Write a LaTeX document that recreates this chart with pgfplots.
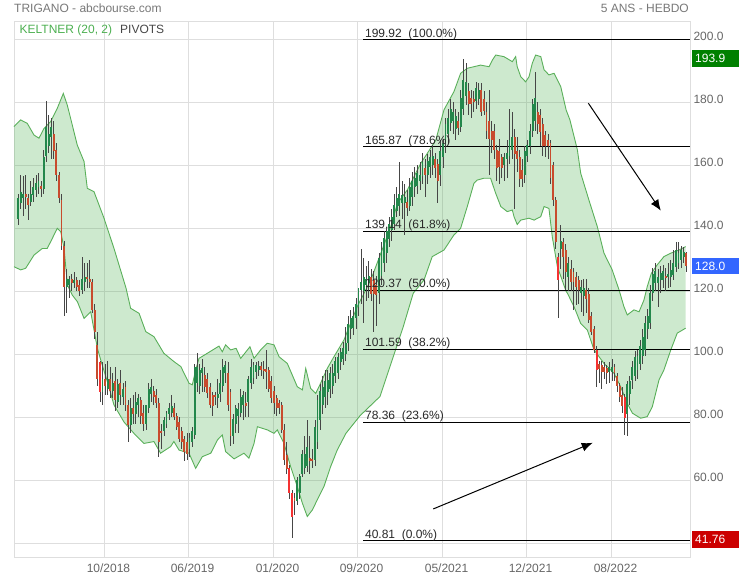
\documentclass[border=0pt]{standalone}
\usepackage{fontspec}
\setmainfont{Liberation Sans}
\usepackage{pgfplots}
\pgfplotsset{compat=1.18}
\usepackage{pgfplotstable}
\usetikzlibrary{arrows.meta}

\definecolor{upc}{RGB}{35,135,75}
\definecolor{downc}{RGB}{200,75,45}
\definecolor{brightc}{RGB}{245,50,50}
\definecolor{wickc}{RGB}{70,70,70}
\definecolor{bandline}{RGB}{90,175,90}
\definecolor{bandfill}{RGB}{76,175,80}
\definecolor{gridc}{RGB}{222,222,222}
\definecolor{labelgray}{RGB}{102,102,102}
\definecolor{titlegray}{RGB}{120,120,120}
\definecolor{keltgreen}{RGB}{76,175,80}
\definecolor{pivgray}{RGB}{70,70,70}
\definecolor{fibtext}{RGB}{40,40,40}
\definecolor{boxgreen}{RGB}{0,128,0}
\definecolor{boxblue}{RGB}{51,102,255}
\definecolor{boxred}{RGB}{204,0,0}

% weekly candles: index, high, low (wicks)
\pgfplotstableread{
i h l
0 151 141
1 157 146
2 156.5 144
3 157 146
4 151 142.5
5 155 147
6 156 148.5
7 157 150
8 157.5 151
9 155 150
10 165 151
11 180.5 161
12 176 164
13 175 162
14 174 162
15 167 155
16 158 148
17 151 133
18 136 112
19 127 113
20 125 118
21 125.5 120
22 126 121
23 124.5 120
24 123.5 118.5
25 131 119
26 129 120
27 129 121
28 130 121
29 124 113
30 116 105
31 107 90
32 98 85
33 97.5 84
34 97 87
35 98 87
36 96 86
37 94 86
38 96 82
39 92 83
40 95 84
41 91 84
42 91.5 82
43 85.5 72
44 86 75
45 87 78
46 88 78
47 87.5 80
48 86.5 78
49 84 75.5
50 84 76
51 91 81.5
52 92 85
53 90 84
54 89 83
55 86 67.5
56 78 70
57 80 74
58 82 76.5
59 84.5 79
60 87 80
61 84.5 79
62 81.5 76
63 80 72
64 77 70
65 74 66
66 75 66.5
67 75 67.5
68 77 70.5
69 97 73
70 100.3 88
71 97 87.5
72 98.5 88
73 96 88
74 94 86
75 91 83
76 88 80.5
77 88 84
78 92 83
79 95 85
80 98.5 88
81 98 91
82 97.5 82
83 89 71
84 81 71.5
85 84 75
86 84.5 75
87 89 80
88 88.5 79
89 88 80
90 93 80
91 98.5 89
92 97.5 90.5
93 97.5 92
94 98 93
95 97.5 93
96 98 92
97 101.5 89
98 96 88
99 93 84.5
100 90 81
101 87 80.5
102 85.5 81
103 85 75
104 78 65
105 72 62
106 65 54
107 57 41.76
108 56 49
109 61 52
110 62 54
111 69.5 61
112 74 62
113 79 62.5
114 74 62
115 70 64
116 79 64.5
117 87 70
118 90.5 76
119 93 81
120 95 83
121 95 84
122 96 86
123 97 87.5
124 99 91
125 100.5 92
126 102 95
127 104 96.5
128 108.7 98
129 112 101
130 114 105
131 115 106
132 118 108
133 121 112
134 133.5 116
135 130.5 110
136 128 117
137 129.5 118
138 127 117
139 126.5 107
140 125 109
141 132 116
142 135.5 122
143 139 126
144 140 129
145 143.5 134
146 146 136
147 151 139.5
148 153 143.5
149 161 144
150 155 143
151 154 138
152 152 144
153 156 145.5
154 158 147
155 159.5 150
156 160 151
157 161 152
158 164 154
159 162 150
160 163.5 154
161 165 156
162 166.5 157
163 164 156
164 162 148
165 168 153.5
166 168.5 159
167 175 164
168 178 167
169 181 171
170 180 170
171 178 168
172 177 169.5
173 184 170.5
174 193.9 176
175 192.5 179
176 186 176
177 184 175
178 183.5 177
179 186.5 178
180 186 179
181 186 175.5
182 183.5 176
183 180 168.5
184 184 157
185 174 164
186 173 162
187 166.5 155
188 168.5 154
189 163.5 156
190 164 155
191 168 156
192 178 160.5
193 177 162
194 171.5 146
195 169 158
196 165 153
197 162 153
198 166 154.5
199 168 161
200 173 163.5
201 181 169
202 189.6 171
203 180 170
204 178 166
205 175 163
206 171 162.5
207 170 162
208 168 154
209 161 147
210 150 133.5
211 132 111.5
212 141 127
213 137 124
214 135 120.5
215 131 120
216 130 120
217 127.5 114
218 126 115.5
219 125 116
220 123.5 113.5
221 124 112
222 124 113
223 121 110
224 113.5 106
225 109 100.5
226 102.5 89.5
227 98 91
228 98 89
229 97.5 92
230 96.5 90.5
231 97.5 91
232 98.5 91.5
233 97 91.5
234 94 88
235 91 85
236 89.5 81.5
237 87.5 74.4
238 91.5 74
239 93 84
240 98 89
241 101 91.5
242 101.5 92
243 104.5 95
244 108 97
245 112 99.5
246 114.5 105
247 122 108
248 127.5 117
249 129 120
250 127 115
251 128 119.5
252 128.5 121
253 127.5 120
254 129 121
255 130 121.5
256 133 123.5
257 135.7 126
258 135.5 127
259 134.5 127.5
260 134 129
261 132.5 126
}\wicks

% bodies of rising weeks: index, open, close
\pgfplotstableread{
i o c
0 143 149.5
1 148 151.5
2 149.5 151
5 148.5 151
6 150.5 153
7 152 154.5
8 153 155
10 152.5 162.5
11 163 172
12 166 170
13 169 172
19 121.5 124
20 122 124
22 122.5 123.5
25 120.5 124
26 123 124.5
33 88 92
35 89 92
37 88.5 91
39 85 90.5
41 86.5 89
44 77.5 83
46 81 85
47 84 86
50 78 84
51 83 89
52 87.5 89.5
57 75.5 79
58 78 81.5
59 81 83
60 81.5 83.5
67 70 73.5
68 72 75.5
69 74.5 96
70 91 96
71 90 95
72 94 95.5
78 86 87.5
79 87.5 90.8
80 90 96
81 94 96.5
84 74 79.5
85 78 83
86 80.5 82.5
87 81.5 86.5
88 84 87
90 85 92
91 91 96
92 92.5 96.5
93 94.5 96.5
94 95 96.2
109 53.5 60
110 56 61.5
111 62 68.5
112 64 68.5
113 64.5 70.5
116 66.5 77
117 72 85.5
118 79 88.5
119 84 89.5
120 86.5 91.5
121 88 91.8
122 89 94
123 90 94
124 93 98
125 94 99
126 97.5 100.7
127 98.5 102
128 100 103.5
129 103.5 109.5
130 108 111.5
131 108.5 112
132 111.5 116
133 115 121
134 120.5 123
135 120 124.5
136 122 124
137 122.5 124.8
141 119.5 130.5
142 125 133
143 129 137
144 132 139
145 136.5 141.5
146 139.5 143.5
147 141.5 147.5
148 145.5 149.5
149 147 151
150 148 150.5
151 148 150
153 147 153
154 150 155
155 153 156
156 153.5 157.5
157 155 157
158 156.5 161
160 157 161.5
161 159.5 162.5
162 160 163
165 157 164.5
166 162.5 167
167 167 173
168 170 175
169 173.5 178
170 174 177
171 171.5 175.5
173 172 181.5
174 178 187
175 182 186.5
179 180.5 184.5
180 181 184
190 160 162.5
191 162 164
192 163 168
193 165 169
198 157 164.5
199 163 166.5
200 166 171
201 171 179.5
202 174 181.5
212 133.5 136
215 124.5 129
220 119.5 121.5
221 118.5 121
231 94.5 96
232 94.5 96
238 81 90.5
239 87.5 91.5
240 91.8 96
241 93 99
242 95 99.3
243 97 102.5
244 99.5 105.5
245 101.5 110
246 108 112
247 110 119.5
248 119.5 125.5
249 122.5 126.5
250 122.5 124.5
251 123.6 125.7
252 123.5 126.5
254 124.5 125.5
255 124.5 126.8
256 125.2 128.9
257 127.8 133
258 129 132
259 130 133
260 131 132.5
}\upbodies

% bodies of falling weeks
\pgfplotstableread{
i o c
3 151 150
4 149.5 147.5
9 153.5 152.5
14 170 164.5
15 165 157
16 157 149.5
17 149 134.5
18 134.5 121.5
21 124 122.5
23 123.5 121.5
24 122 120
27 124.5 124
28 124 123
29 123 114
30 114 107
31 103 92
34 92 90
36 92 88.5
38 91.5 85.5
40 91 87
42 89.5 84
43 84 77.5
45 83 81
48 85.5 80.5
49 81.5 78
53 88.5 86.5
54 87 84.5
55 84.5 72
56 75.5 75
61 83 80
62 80.5 77
63 78.5 73
64 75.5 72
65 73 69
66 72 68.5
73 93.5 89.5
74 92 87.6
75 89.5 84
76 87 83.5
77 87 86.3
82 94 84
83 88 74
89 84.4 83.6
95 96.3 95
96 95.2 94.6
97 95.4 94.4
98 95 89
99 91.5 86
100 88.5 84.5
101 86 83
102 84.5 83
103 84 76
104 76 66.5
105 68 63.5
108 54.3 53.3
114 67.2 66.2
115 66.8 66.4
138 124.5 119
139 123.5 119
140 122 118.8
152 148.5 146.4
159 159 157
163 162 159
164 160.5 155
172 174 171.8
176 183.5 179.5
177 181.5 179.6
178 181 180
181 184 177
182 181 177.2
183 177 171
184 174 168.5
185 171 168
186 171 165
187 165 159
188 164.5 159.5
189 162.5 159
194 169 163.5
195 164.5 162
196 162.5 155.5
197 158.5 155.5
203 177 173
204 176 170.5
205 173 166
206 169.5 166
207 168 166
208 167 156
209 160 149
210 149 135.5
213 135.5 131
214 133 126
216 127 123
217 126 123
218 124.5 121.5
219 123.5 120.5
222 120.5 117.5
223 119 111
224 112 107
225 108 101.5
227 97 95.2
228 96.5 94.5
229 96 94.5
230 95.5 94
233 96 94
234 93 89.8
235 90 86.6
236 87 83.5
253 124.7 124.1
261 132 128
}\downbodies

% bodies of the sharpest falls
\pgfplotstableread{
i o c
32 97.5 88
106 64 56
107 56 48.5
211 131 123.6
226 101.5 95
237 86.5 79.8
}\brightbodies

\pgfplotstableread{
i p
-1.5625 172.3
1.05 174.4
3.63 173.3
6.25 169.6
8.2 168.6
10.16 171.7
12.77 173.9
15.35 178.1
17.7 182.8
19.26 179.1
21.2 172.8
23.16 166.4
25.8 161.2
27.07 152.7
29.7 151.6
33.6 143.2
37.5 133.6
42.2 121
44.0 114.6
47.3 113
49.9 107.2
53.1 105.6
57.0 100.3
60.9 97.7
63.6 96.1
66.8 90.8
68.1 90.3
69.4 95
70.7 98.7
73.9 100.3
78.5 102.6
79.8 100.8
81.1 103
83.1 101.4
85.2 101.9
87.0 98.7
90.6 102.4
92.2 98.7
94.8 101.4
97.4 103.5
100.0 103
102.0 99.2
105.2 97.1
109.1 89.7
111.1 88.7
112.4 95.5
114.3 89.2
116.3 87.6
118.2 90.8
120.8 95.5
123.4 99.2
127.3 104.5
132.5 115.1
137.8 123.6
141.7 132
145.6 140.5
148.2 147.9
152.1 152.2
157.3 160.6
159.9 163.8
163.2 168
166.4 177.6
170.3 183.4
172.9 189.2
175.5 190.8
180.7 191.8
184.0 191.3
185.3 193.4
186.6 195
189.8 194.5
193.1 192.9
194.4 194.5
195.0 191.3
196.4 188.1
198.3 186.5
199.6 188.1
200.9 192.4
202.2 195
204.2 194.5
205.5 190.3
207.4 188.7
209.4 189.2
212.0 185
214.1 177.6
215.6 174.4
218.5 164.9
219.8 157.5
223.0 149
226.3 140.5
228.9 132.1
232.1 126.8
234.8 120.4
236.7 115.1
238.0 112.5
240.6 114.1
242.6 113.5
244.5 117.2
245.8 121.5
247.4 125.7
249.7 128.4
252.3 131
255.0 132.1
258.2 133.1
260.8 134.2
}\upperband

\pgfplotstableread{
i p
-1.5625 127.8
1.05 126.8
3.0 127.3
6.25 131.5
9.5 133.6
11.4 133.6
12.8 135.8
15.35 140
16.7 138.9
18.0 133.6
19.3 122
21.2 118.8
23.2 116.7
25.8 111.4
28.4 113.5
31.0 101.9
32.9 96.6
34.9 91.3
37.5 83.9
41.4 78.5
45.3 74.9
49.2 71.7
53.1 72.3
55.7 68.6
59.6 70.7
60.9 72.3
62.9 69.6
66.8 68.6
69.4 63.8
72.0 67.5
75.3 68.6
77.9 72.8
79.8 74.4
81.1 69.1
84.4 66.8
88.3 68.6
90.2 67
92.2 71.7
93.5 77
97.4 76
100.0 74.9
101.3 76
103.9 71.7
106.5 64.3
109.1 58
111.1 52.7
113.0 48.5
115.0 50.6
116.9 53.8
119.5 58
122.1 64.3
124.7 69.6
128.1 74.9
133.6 80.5
141.4 86.6
145.3 96.1
150.5 108.8
154.4 119.4
158.6 123.6
161.8 131
166.4 133.1
169.0 136.3
170.3 137.9
172.9 140
175.5 146.9
178.1 154.3
179.4 155.3
182.0 155.9
184.6 155.9
186.6 151.1
188.6 146.9
191.1 145.3
193.1 145.8
193.75 143.7
195.0 141.2
196.4 142.6
199.6 143.2
201.6 142.6
204.2 143.7
205.5 146.9
207.4 146.3
208.7 137.3
210.7 127.8
214.1 120
214.6 119.4
217.2 115.1
219.8 109.8
222.4 107.7
225.0 101.4
228.9 97.1
232.8 94
235.4 89.7
238.0 84.4
240.0 81.3
243.2 79.7
245.8 80.2
247.8 83.4
250.4 91.9
252.3 95
255.0 101.4
257.5 106.7
260.8 108.3
}\lowerband

% band outline as one polygon: upper edge forward, lower edge backward
\pgfplotstableread{
i p
-1.5625 172.3
1.05 174.4
3.63 173.3
6.25 169.6
8.2 168.6
10.16 171.7
12.77 173.9
15.35 178.1
17.7 182.8
19.26 179.1
21.2 172.8
23.16 166.4
25.8 161.2
27.07 152.7
29.7 151.6
33.6 143.2
37.5 133.6
42.2 121
44.0 114.6
47.3 113
49.9 107.2
53.1 105.6
57.0 100.3
60.9 97.7
63.6 96.1
66.8 90.8
68.1 90.3
69.4 95
70.7 98.7
73.9 100.3
78.5 102.6
79.8 100.8
81.1 103
83.1 101.4
85.2 101.9
87.0 98.7
90.6 102.4
92.2 98.7
94.8 101.4
97.4 103.5
100.0 103
102.0 99.2
105.2 97.1
109.1 89.7
111.1 88.7
112.4 95.5
114.3 89.2
116.3 87.6
118.2 90.8
120.8 95.5
123.4 99.2
127.3 104.5
132.5 115.1
137.8 123.6
141.7 132
145.6 140.5
148.2 147.9
152.1 152.2
157.3 160.6
159.9 163.8
163.2 168
166.4 177.6
170.3 183.4
172.9 189.2
175.5 190.8
180.7 191.8
184.0 191.3
185.3 193.4
186.6 195
189.8 194.5
193.1 192.9
194.4 194.5
195.0 191.3
196.4 188.1
198.3 186.5
199.6 188.1
200.9 192.4
202.2 195
204.2 194.5
205.5 190.3
207.4 188.7
209.4 189.2
212.0 185
214.1 177.6
215.6 174.4
218.5 164.9
219.8 157.5
223.0 149
226.3 140.5
228.9 132.1
232.1 126.8
234.8 120.4
236.7 115.1
238.0 112.5
240.6 114.1
242.6 113.5
244.5 117.2
245.8 121.5
247.4 125.7
249.7 128.4
252.3 131
255.0 132.1
258.2 133.1
260.8 134.2
260.8 108.3
257.5 106.7
255.0 101.4
252.3 95
250.4 91.9
247.8 83.4
245.8 80.2
243.2 79.7
240.0 81.3
238.0 84.4
235.4 89.7
232.8 94
228.9 97.1
225.0 101.4
222.4 107.7
219.8 109.8
217.2 115.1
214.6 119.4
214.1 120
210.7 127.8
208.7 137.3
207.4 146.3
205.5 146.9
204.2 143.7
201.6 142.6
199.6 143.2
196.4 142.6
195.0 141.2
193.75 143.7
193.1 145.8
191.1 145.3
188.6 146.9
186.6 151.1
184.6 155.9
182.0 155.9
179.4 155.3
178.1 154.3
175.5 146.9
172.9 140
170.3 137.9
169.0 136.3
166.4 133.1
161.8 131
158.6 123.6
154.4 119.4
150.5 108.8
145.3 96.1
141.4 86.6
133.6 80.5
128.1 74.9
124.7 69.6
122.1 64.3
119.5 58
116.9 53.8
115.0 50.6
113.0 48.5
111.1 52.7
109.1 58
106.5 64.3
103.9 71.7
101.3 76
100.0 74.9
97.4 76
93.5 77
92.2 71.7
90.2 67
88.3 68.6
84.4 66.8
81.1 69.1
79.8 74.4
77.9 72.8
75.3 68.6
72.0 67.5
69.4 63.8
66.8 68.6
62.9 69.6
60.9 72.3
59.6 70.7
55.7 68.6
53.1 72.3
49.2 71.7
45.3 74.9
41.4 78.5
37.5 83.9
34.9 91.3
32.9 96.6
31.0 101.9
28.4 113.5
25.8 111.4
23.2 116.7
21.2 118.8
19.3 122
18.0 133.6
16.7 138.9
15.35 140
12.8 135.8
11.4 133.6
9.5 133.6
6.25 131.5
3.0 127.3
1.05 126.8
-1.5625 127.8
}\bandpoly

\newcommand{\fs}{\fontsize{12}{14}\selectfont}

\pgfplotsset{
  candlewick/.style={only marks, mark=*, mark size=0pt, mark options={draw=none, fill=none}, forget plot,
    error bars/y dir=both, error bars/y explicit, error bars/error mark=none,
    error bars/error bar style={draw=wickc, line width=0.8pt}},
  candlebody/.style={only marks, mark=*, mark size=0pt, mark options={draw=none, fill=none}, forget plot,
    error bars/y dir=both, error bars/y explicit, error bars/error mark=none,
    error bars/error bar style={draw=#1, line width=1.9pt, line cap=butt}},
}
\tikzset{
  fiblabel/.style={anchor=base west, inner sep=0pt, font=\fs, text=fibtext, yshift=2.5pt},
  pricebox/.style={fill=#1, text=white, anchor=west, font=\fs, inner xsep=3.5pt, inner ysep=0pt, minimum height=16.5pt, text width=41pt, align=left, xshift=1.5pt},
}

\begin{document}
\begin{tikzpicture}
\begin{axis}[
  at={(14pt,23pt)}, anchor=south west,
  scale only axis, width=676pt, height=536pt,
  xmin=-1.5625, xmax=262.5, ymin=35.65, ymax=205.81,
  clip=false,
  axis line style={draw=gridc, line width=0.8pt},
  grid=major,
  major grid style={draw=gridc, line width=0.8pt},
  major tick length=0pt,
  xtick={33.59,66.41,99.61,132.42,165.63,198.44,231.64},
  xticklabels={10/2018,06/2019,01/2020,09/2020,05/2021,12/2021,08/2022},
  xticklabel style={font=\fs, text=labelgray, xshift=4.5pt, yshift=-3pt},
  ytick={40,60,80,100,120,140,160,180,200},
  yticklabels={,60.00,80.00,100.0,120.0,140.0,160.0,180.0,200.0},
  yticklabel pos=right,
  yticklabel style={font=\fs, text=labelgray, anchor=west, yshift=2.5pt},
]
% Keltner band
\addplot[fill=bandfill, fill opacity=0.28, draw=none, forget plot] table[x=i,y=p] {\bandpoly};
\addplot[draw=bandline, line width=0.9pt, forget plot] table[x=i,y=p] {\upperband};
\addplot[draw=bandline, line width=0.9pt, forget plot] table[x=i,y=p] {\lowerband};

% Fibonacci lines
\addplot[black, line width=1pt, forget plot] coordinates {(134.8,199.92) (262.5,199.92)};
\addplot[black, line width=1pt, forget plot] coordinates {(134.8,165.87) (262.5,165.87)};
\addplot[black, line width=1pt, forget plot] coordinates {(134.8,139.14) (262.5,139.14)};
\addplot[black, line width=1pt, forget plot] coordinates {(134.8,120.37) (262.5,120.37)};
\addplot[black, line width=1pt, forget plot] coordinates {(134.8,101.59) (262.5,101.59)};
\addplot[black, line width=1pt, forget plot] coordinates {(134.8,78.36) (262.5,78.36)};
\addplot[black, line width=1pt, forget plot] coordinates {(134.8,40.81) (262.5,40.81)};

% Candles: wicks and bodies
\addplot[candlewick] table[x=i, y expr={(\thisrow{h}+\thisrow{l})/2}, y error expr={(\thisrow{h}-\thisrow{l})/2}] {\wicks};
\addplot[candlebody=upc] table[x=i, y expr={(\thisrow{o}+\thisrow{c})/2}, y error expr={max(abs(\thisrow{c}-\thisrow{o})/2,0.3)}] {\upbodies};
\addplot[candlebody=downc] table[x=i, y expr={(\thisrow{o}+\thisrow{c})/2}, y error expr={max(abs(\thisrow{c}-\thisrow{o})/2,0.3)}] {\downbodies};
\addplot[candlebody=brightc] table[x=i, y expr={(\thisrow{o}+\thisrow{c})/2}, y error expr={max(abs(\thisrow{c}-\thisrow{o})/2,0.3)}] {\brightbodies};

% Fib labels
\node[fiblabel] at (axis cs:135.5,199.92) {199.92\ \ (100.0\%)};
\node[fiblabel] at (axis cs:135.5,165.87) {165.87\ \ (78.6\%)};
\node[fiblabel] at (axis cs:135.5,139.14) {139.14\ \ (61.8\%)};
\node[fiblabel] at (axis cs:135.5,120.37) {120.37\ \ (50.0\%)};
\node[fiblabel] at (axis cs:135.5,101.59) {101.59\ \ (38.2\%)};
\node[fiblabel] at (axis cs:135.5,78.36) {78.36\ \ (23.6\%)};
\node[fiblabel] at (axis cs:135.5,40.81) {40.81\ \ (0.0\%)};

% Arrows
\draw[line width=1pt, -{Latex[length=11pt,width=9pt]}] (axis cs:222.8,179.7) -- (axis cs:251.1,145.6);
\draw[line width=1pt, -{Latex[length=11pt,width=9pt]}] (axis cs:162.2,50.9) -- (axis cs:224.5,71.9);

% Price boxes
\node[pricebox=boxgreen] at (axis cs:262.5,193.9) {193.9};
\node[pricebox=boxblue] at (axis cs:262.5,128.0) {128.0};
\node[pricebox=boxred] at (axis cs:262.5,41.2) {41.76};
\end{axis}

% Header texts
\node[anchor=base west, inner sep=0pt, font=\fs, text=titlegray] at (14pt,567.2pt) {TRIGANO - abcbourse.com};
\node[anchor=base east, inner sep=0pt, font=\fs, text=titlegray] at (689pt,567.2pt) {5 ANS - HEBDO};
\node[anchor=base west, inner sep=0pt, font=\fs, text=keltgreen] at (19.5pt,546.7pt) {KELTNER (20, 2)};
\node[anchor=base west, inner sep=0pt, font=\fs, text=pivgray] at (120pt,546.7pt) {PIVOTS};
\pgfresetboundingbox
\useasboundingbox (0pt,0pt) rectangle (739pt,580pt);
\end{tikzpicture}
\end{document}
